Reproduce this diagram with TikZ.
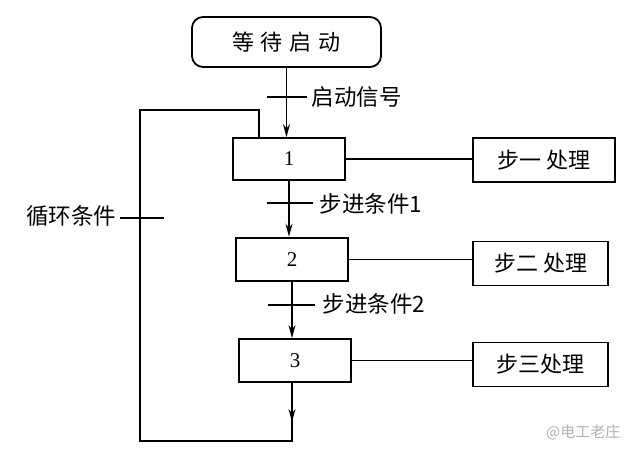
\documentclass[tikz,border=0pt]{standalone}
\usepackage{fontspec}
\setmainfont{Liberation Serif}
\newfontfamily\cjk{Noto Sans CJK SC}
\usetikzlibrary{arrows.meta}
\begin{document}
\begin{tikzpicture}[x=1pt,y=-1pt,
  line width=1.5pt,
  stepbox/.style={draw,line width=1.8pt,minimum width=112pt,minimum height=42pt,inner sep=0pt,font=\fontsize{21}{21}\selectfont},
  procbox/.style={draw,line width=1.8pt,minimum height=44pt,inner sep=0pt,font=\cjk\fontsize{22}{22}\selectfont},
  lbl/.style={inner sep=0pt,font=\cjk\fontsize{22.5}{22.5}\selectfont},
  arr/.style={-{Stealth[length=13pt,width=7pt]}},
  tick/.style={line width=1.5pt}]
\useasboundingbox (0,0) rectangle (634,454);
% top node
\node[draw,line width=1.8pt,rounded corners=11pt,minimum width=189pt,minimum height=50pt,inner sep=0pt,
  font=\cjk\fontsize{22}{22}\selectfont] (start) at (286.5,42) {等\hspace{7pt}待\hspace{7pt}启\hspace{7pt}动};
% steps
\node[stepbox] (b1) at (289,159) {1};
\node[stepbox,line width=2.5pt,minimum height=43pt] (b2) at (292,259.5) {2};
\node[stepbox,minimum height=43pt] (b3) at (295,360.5) {3};
% processing boxes
\node[procbox,minimum width=142pt] (p1) at (544,160) {步一\hspace{5pt}处理};
\node[procbox,minimum width=135pt] (p2) at (540.5,263.5) {步二\hspace{5pt}处理};
\node[procbox,minimum width=135pt] (p3) at (540.5,364.5) {步三处理};
% connectors between steps
\draw[arr] (start.south) -- (start.south |- b1.north);
\draw[arr] (b1.south) -- (b1.south |- b2.north);
\draw[arr] (b2.south) -- (b2.south |- b3.north);
\coordinate (d0) at (292,381.5);
\coordinate (d1) at (292,441);
\coordinate (lc) at (140,441);
\coordinate (lt) at (140,110);
\coordinate (rt) at (259,110);
\draw[arr] (d0) -- (292,422);
\draw (d0) -- (d1) -- (lc) -- (lt) -- (rt) -- (rt |- b1.north);
% lines to processing boxes
\draw (b1.east) -- (p1.west |- b1.east);
\draw (b2.east) -- (p2.west |- b2.east);
\draw (b3.east) -- (p3.west |- b3.east);
% transition ticks and labels
\coordinate (t0) at (287,97);
\draw[tick] ([xshift=-20pt]t0) -- ([xshift=20pt]t0);
\node[lbl,anchor=west] (l0) at (311,97) {启动信号};
\coordinate (t1) at (290,203);
\draw[tick] ([xshift=-23pt]t1) -- ([xshift=23pt]t1);
\node[lbl,anchor=west] (l1) at (319,204) {步进条件1};
\coordinate (t2) at (292,305);
\draw[tick] ([xshift=-24pt]t2) -- ([xshift=23pt]t2);
\node[lbl,anchor=west] (l2) at (322,304) {步进条件2};
\coordinate (t3) at (140,218);
\draw[tick] ([xshift=-20pt]t3) -- ([xshift=24pt]t3);
\node[lbl,anchor=east] (l3) at (117,216) {循环条件};
% watermark
\node[inner sep=0pt,text=black!30,font=\cjk\fontsize{15}{15}\selectfont,anchor=east] (wm) at (621,432) {@电工老庄};
\end{tikzpicture}
\end{document}
